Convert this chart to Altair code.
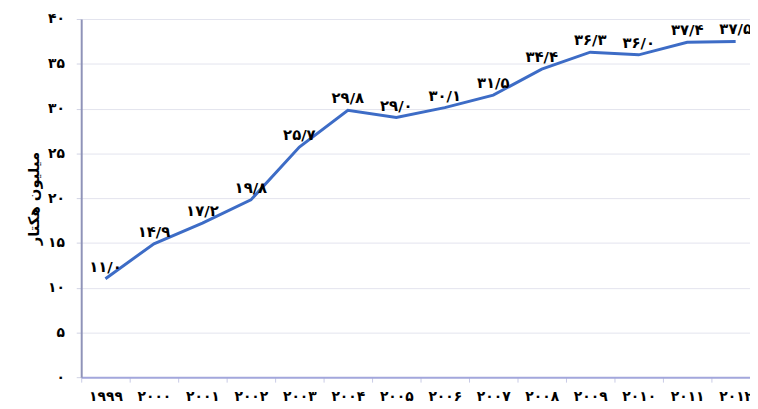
import altair as alt
import pandas as pd

years = [1999, 2000, 2001, 2002, 2003, 2004, 2005, 2006, 2007, 2008, 2009, 2010, 2011, 2012]
area = [11.0, 14.9, 17.2, 19.8, 25.7, 29.8, 29.0, 30.1, 31.5, 34.4, 36.3, 36.0, 37.4, 37.5]
y_title = "میلیون هکتار"

FA = "۰۱۲۳۴۵۶۷۸۹"


def fa_digits(s):
    return "".join(FA[int(c)] if c.isdigit() else c for c in s)


df = pd.DataFrame({
    "year": [str(y) for y in years],
    "value": area,
    "label": [fa_digits(f"{v:.1f}").replace(".", "/") for v in area],
})

# expression that converts western digits to Persian digits
expr = "datum.label"
for i, ch in enumerate(FA):
    expr = f"replace({expr}, regexp('{i}', 'g'), '{ch}')"

FONT = "DejaVu Sans"

x_enc = alt.X(
    "year:O",
    bandPosition=0.5,
    sort=None,
    scale=alt.Scale(type="band", range=[0, 686], paddingInner=0, paddingOuter=0),
    axis=alt.Axis(
        title=None,
        labelExpr=expr,
        labelAngle=0,
        labelFont=FONT,
        labelFontSize=14,
        labelFontWeight="bold",
        labelColor="#000000",
        labelPadding=8,
        domainColor="#a3a7dc",
        domainWidth=2,
        tickColor="#c8cae6",
        tickSize=5,
        tickBand="extent",
        grid=False,
    ),
)

y_enc = alt.Y(
    "value:Q",
    scale=alt.Scale(domain=[0, 40]),
    axis=alt.Axis(
        title=y_title,
        titleFont=FONT,
        titleFontSize=15,
        titleFontWeight="bold",
        titleColor="#000000",
        titlePadding=6,
        values=[0, 5, 10, 15, 20, 25, 30, 35, 40],
        labelExpr=expr,
        labelFont=FONT,
        labelFontSize=14,
        labelFontWeight="bold",
        labelColor="#000000",
        labelPadding=12,
        domainColor="#8f93b8",
        domainWidth=2,
        tickColor="#d0d2e4",
        tickSize=5,
        gridColor="#e3e4ee",
        gridWidth=1,
    ),
)

base = alt.Chart(df)

line = base.mark_line(color="#3d6cc6", strokeWidth=3).encode(x=x_enc, y=y_enc)

text = base.mark_text(
    font=FONT, fontSize=15, fontWeight="bold", color="#000000",
    baseline="bottom", dy=-4,
).encode(x=alt.X("year:O", bandPosition=0.5, sort=None), y="value:Q", text="label:N")

chart = (line + text).properties(
    width=676,
    height=362,
    autosize=alt.AutoSizeParams(type="none"),
    padding={"left": 74, "top": 9, "right": 0, "bottom": 28},
).configure_view(stroke=None)

chart.save("out.html", embed_options={"renderer": "svg", "actions": False})
